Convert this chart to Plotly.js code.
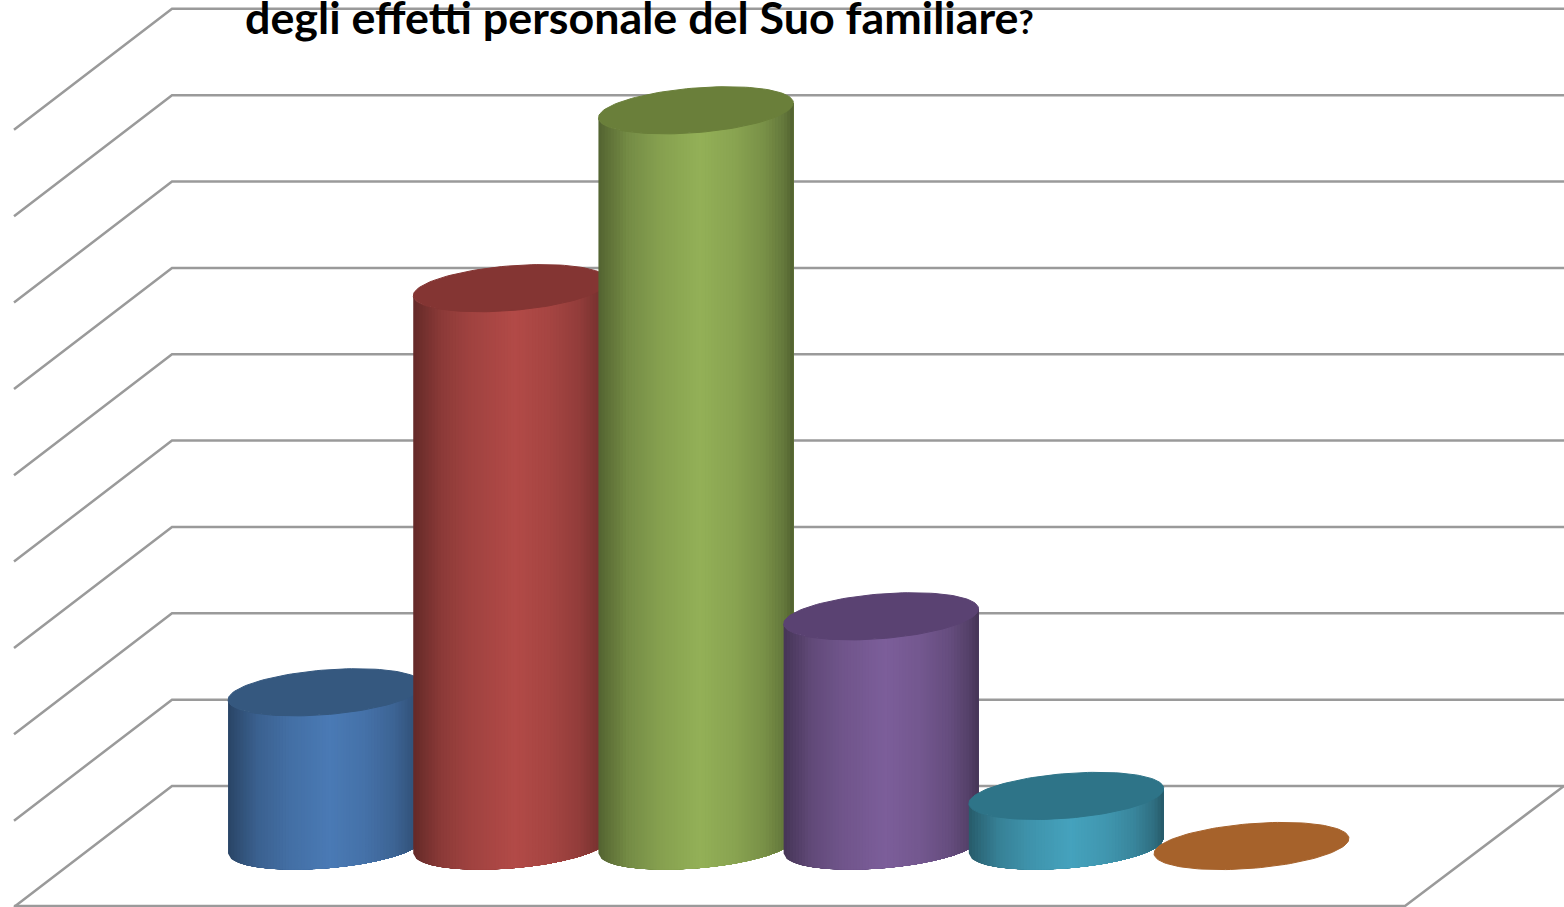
<!DOCTYPE html>
<html>
<head>
<meta charset="utf-8">
<script src="https://cdn.plot.ly/plotly-3.0.1.min.js"></script>
<style>html,body{margin:0;padding:0;background:#fff;overflow:hidden}#chart{width:1564px;height:907px}</style>
</head>
<body>
<div id="chart"></div>
<script>
// Data (percent of answers; no labels are visible in the source)
const categories = ['A', 'B', 'C', 'D', 'E', 'F'];
const values = [8.9, 32.3, 42.6, 13.3, 2.9, 0];
const gridTicks = [0, 5, 10, 15, 20, 25, 30, 35, 40, 45];
const titleText = 'degli effetti personale del Suo familiare';
const titleMark = '?';

// Styles
const bodyColors = ['#4A7AB5', '#B24A47', '#93B057', '#7C5E9A', '#45A2BD', '#D98A3E'];
const topColors = ['#35587F', '#843533', '#6A7F3A', '#5A4272', '#2E7488', '#A6622B'];
const shadeStops = [[0, .56], [.05, .64], [.15, .79], [.3, .9], [.52, 1], [.7, .93], [.85, .82], [.95, .68], [1, .55]];

// Geometry of the oblique view, in axis units (1 category = 185.2px, 1% = 17.27px)
const W = 1564, H = 907, slot = 185.2, pct = 17.27, x0px = 325.5, y0px = 846;
const xRange = [-x0px / slot, (W - x0px) / slot];
const yRange = [-(H - y0px) / pct, y0px / pct];
const A = 92.4 / slot, B = 31 / slot, C = 23.6 / pct, R = Math.hypot(A, B), PHI = Math.atan2(B, A);
const wall = { backLeft: (172 - x0px) / slot, backRight: (W - x0px) / slot, frontLeft: (14 - x0px) / slot, frontRight: (1405 - x0px) / slot, back: 60 / pct, front: -60 / pct };

const hex = c => [1, 3, 5].map(i => parseInt(c.substr(i, 2), 16));
function shade(color, t) {
  let f = 1;
  for (let i = 1; i < shadeStops.length; i++) {
    if (t <= shadeStops[i][0]) {
      const [a, fa] = shadeStops[i - 1], [b, fb] = shadeStops[i];
      f = fa + (fb - fa) * (t - a) / (b - a);
      break;
    }
  }
  const [r, g, b] = hex(color);
  return `rgb(${Math.round(r * f)},${Math.round(g * f)},${Math.round(b * f)})`;
}
function lowerArc(dx) {               // front edge height of the disc at offset dx from its centre
  const u = Math.max(-1, Math.min(1, dx / R));
  return C * Math.sin(PHI - Math.acos(u));
}

const traces = [];
// Walls and floor
const gx = [], gy = [];
gridTicks.forEach(v => {
  gx.push(wall.frontLeft, wall.backLeft, wall.backRight, null);
  gy.push(v + wall.front - 1 / pct, v + wall.back, v + wall.back, null);
});
gx.push(wall.frontLeft, wall.frontRight, wall.backRight);
gy.push(wall.front + 0.0, wall.front + 0.0, wall.back);
traces.push({ x: gx, y: gy, mode: 'lines', line: { color: '#9a9a9a', width: 2.5 }, hoverinfo: 'skip', name: 'griglia' });

// Cylinders, painted left to right so each one covers its left neighbour.
// Each gradient step is painted from its left edge to the far right of the body,
// so that the next step covers it without leaving a seam.
const STRIPS = 64;
categories.forEach((cat, i) => {
  const v = values[i];
  if (v > 0) {
    for (let s = 0; s < STRIPS; s++) {
      const col = shade(bodyColors[i], (s + .5) / STRIPS);
      const lowX = [], lowY = [], upX = [], upY = [];
      for (let p = s; p <= STRIPS; p++) {
        const d = -R + 2 * R * p / STRIPS;
        lowX.push(i + d); lowY.push(lowerArc(d));
        upX.unshift(i + d); upY.unshift(v + lowerArc(d));
      }
      traces.push({
        x: lowX.concat(upX, [lowX[0]]),
        y: lowY.concat(upY, [lowY[0]]),
        mode: 'lines', fill: 'toself', fillcolor: col, line: { color: col, width: 0 },
        hoverinfo: 'skip', name: cat
      });
    }
  }
  const ex = [], ey = [];
  for (let k = 0; k <= 120; k++) {
    const th = 2 * Math.PI * k / 120;
    ex.push(i + A * Math.cos(th) + B * Math.sin(th));
    ey.push(v + C * Math.sin(th));
  }
  traces.push({
    x: ex, y: ey, mode: 'lines', fill: 'toself', fillcolor: topColors[i],
    line: { color: topColors[i], width: 1 }, name: cat, hoverinfo: 'skip'
  });
});

const layout = {
  width: W, height: H, showlegend: false,
  paper_bgcolor: '#fff', plot_bgcolor: '#fff',
  margin: { l: 0, r: 0, t: 0, b: 0 },
  xaxis: { range: xRange, visible: false, fixedrange: true },
  yaxis: { range: yRange, visible: false, fixedrange: true },
  title: {
    text: `${titleText}<span style="font-size:33px">${titleMark}</span>`,
    font: { family: 'Lato, "Open Sans", sans-serif', size: 44.8, color: '#000', weight: 700 },
    xref: 'paper', yref: 'paper', x: 245 / W, xanchor: 'left', y: 1, yanchor: 'top',
    pad: { t: 3 }, automargin: false
  }
};
Plotly.newPlot('chart', traces, layout, { displayModeBar: false, staticPlot: true });
</script>
</body>
</html>
